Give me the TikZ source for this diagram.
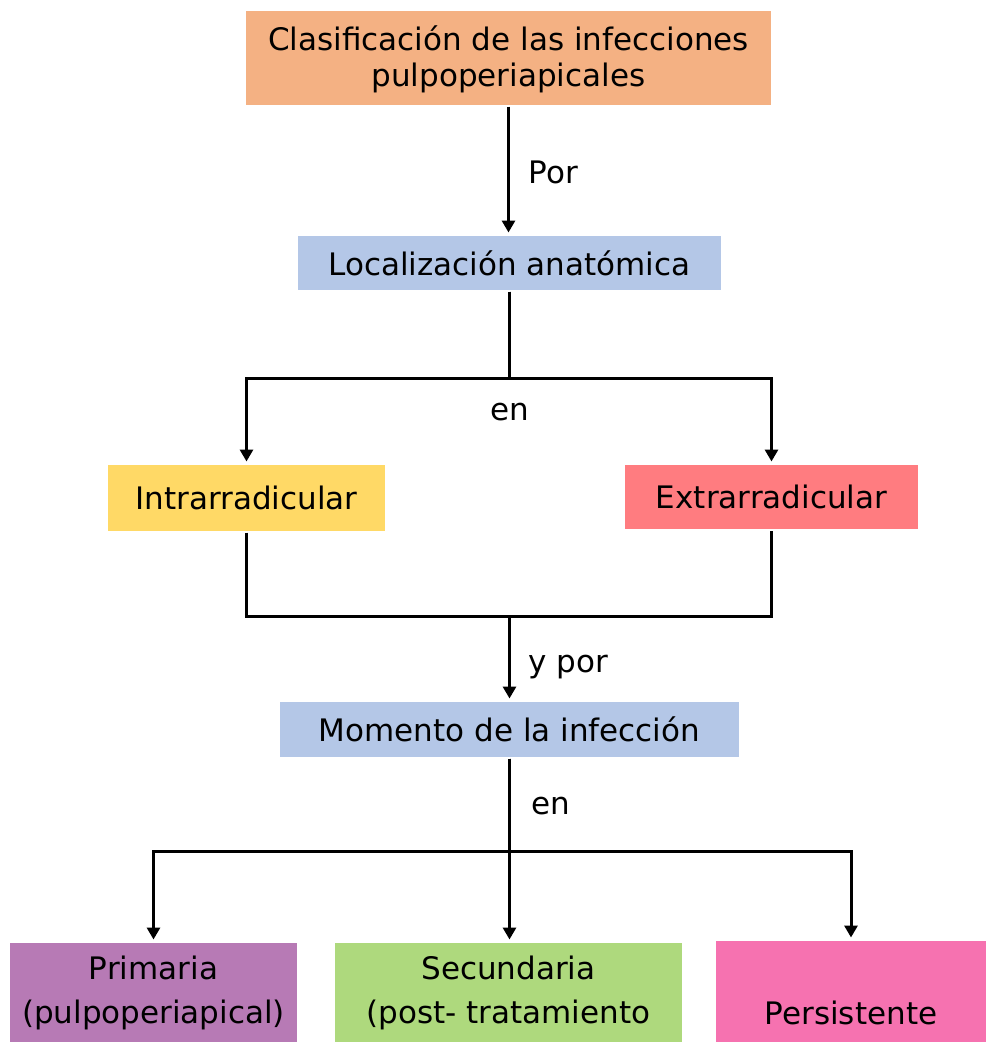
\documentclass[tikz,border=0pt]{standalone}
\usepackage{fontspec}
\setmainfont{DejaVu Sans}
\usetikzlibrary{arrows.meta}
\definecolor{clasif}{HTML}{F4B183}
\definecolor{azul}{HTML}{B4C7E7}
\definecolor{amarillo}{HTML}{FFD966}
\definecolor{rojo}{HTML}{FF7C80}
\definecolor{morado}{HTML}{B77AB5}
\definecolor{verde}{HTML}{AED97D}
\definecolor{rosa}{HTML}{F672B0}
\begin{document}
\begin{tikzpicture}[x=1pt, y=-1pt, >={Triangle[length=12pt, width=13pt]}, line width=3pt]
    \tikzset{box/.style={inner sep=0pt, align=center, font=\fontsize{31}{36}\selectfont}};
    \tikzset{lbl/.style={inner sep=0pt, font=\fontsize{31}{36}\selectfont}};
    \tikzset{flecha/.style={->, shorten >=2pt}};
    \useasboundingbox (0,0) rectangle (986,1042);
    % cajas
    \node[box, fill=clasif, minimum width=525, minimum height=94] (clas) at (508.5, 58) {\raisebox{-10pt}[0pt][0pt]{\begin{tabular}{@{}c@{}}Clasificación de las infecciones\\pulpoperiapicales\end{tabular}}};
    \node[box, fill=azul, minimum width=423, minimum height=54] (loc) at (509.5, 263) {Localización anatómica};
    \node[box, fill=amarillo, minimum width=277, minimum height=66] (intra) at (246.5, 498) {Intrarradicular};
    \node[box, fill=rojo, minimum width=293, minimum height=64] (extra) at (771.5, 497) {Extrarradicular};
    \node[box, fill=azul, minimum width=459, minimum height=55] (mom) at (509.5, 729.5) {Momento de la infección};
    \node[box, fill=morado, font=\fontsize{31}{44}\selectfont, minimum width=287, minimum height=100] (prim) at (153.5, 993) {Primaria\\(pulpoperiapical)};
    \node[box, fill=verde, font=\fontsize{31}{44}\selectfont, minimum width=347, minimum height=100] (secu) at (508.5, 993) {Secundaria\\(post- tratamiento};
    \node[box, fill=rosa, minimum width=270, minimum height=144] (pers) at (851, 1013) {Persistente};
    % conectores
    \draw[flecha] (clas.south) -- (clas.south |- loc.north);
    \node[lbl, anchor=west] (por) at (527, 172) {Por};
    \draw[flecha] (loc.south) -- ++(0,87) -| (intra.north);
    \draw[flecha] (loc.south) -- ++(0,87) -| (extra.north);
    \node[lbl] (en1) at (510, 412) {en};
    \draw (intra.south) -- ++(0,84) -| (extra.south);
    \coordinate (junta) at (509.5, 615);
    \draw[flecha] (junta) -- (mom.north);
    \node[lbl, anchor=west] (ypor) at (527, 667) {y por};
    \draw[flecha] (mom.south) -- ++(0,93) -| (prim.north);
    \draw[flecha] (mom.south) -- ++(0,93) -| (pers.north);
    \draw[flecha] (mom.south) -- (mom.south |- secu.north);
    \node[lbl] (en2) at (551, 806) {en};
\end{tikzpicture}
\end{document}
